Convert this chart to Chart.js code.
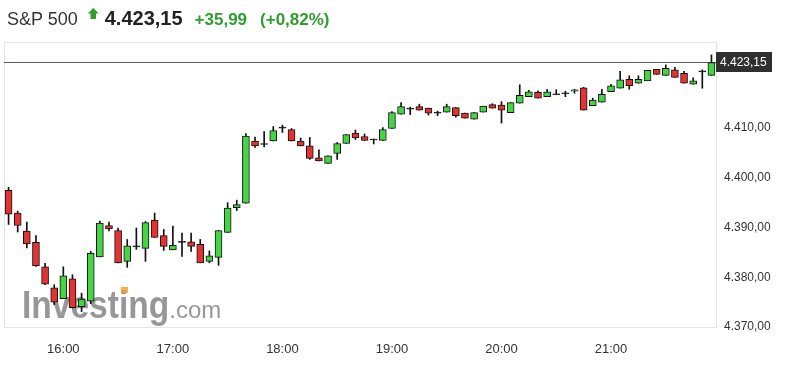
<!DOCTYPE html>
<html>
<head>
<meta charset="utf-8">
<script src="https://cdn.jsdelivr.net/npm/chart.js@4/dist/chart.umd.min.js"></script>
<style>
  body { margin: 0; background: #fff; font-family: Arial, "Liberation Sans", sans-serif; }
  #wrap { position: relative; width: 796px; height: 378px; }
  #grafico { position: absolute; left: 0; top: 0; }
  #titulo { position: absolute; left: 7px; top: 7px; white-space: nowrap; line-height: 22px; }
  #titulo span { display: inline-block; vertical-align: baseline; }
  .nombre { font-size: 18px; color: #333; }
  .flecha { width: 11px; height: 11px; background: #2e9e2e; margin: 0 6px 0 10px;
            clip-path: polygon(50% 0, 100% 50%, 75% 50%, 75% 100%, 25% 100%, 25% 50%, 0 50%);
            position: relative; top: -6px; }
  .precio { font-size: 20px; font-weight: bold; color: #222; }
  .cambio { font-size: 17px; font-weight: bold; color: #2e9e2e; margin-left: 12px; }
  .pct { margin-left: 13px; }
</style>
</head>
<body>
<div id="wrap">
  <canvas id="grafico" width="796" height="378"></canvas>
  <div id="titulo"><span class="nombre">S&amp;P 500</span><span class="flecha"></span><span class="precio">4.423,15</span><span class="cambio">+35,99</span><span class="cambio pct">(+0,82%)</span></div>
</div>
<script>
// velas de 5 minutos, 15:30 -> 21:55
var horas = [];
for (var i = 0; i < 78; i++) {
  var min = 15 * 60 + 30 + i * 5;
  var h = Math.floor(min / 60), m = min % 60;
  horas.push(h + ':' + (m < 10 ? '0' + m : m));
}

var apertura = [4397.5, 4392.9, 4389.3, 4387.0, 4382.1, 4377.9, 4375.7, 4379.7, 4374.1, 4375.2,
  4384.1, 4390.4, 4389.4, 4383.2, 4386.1, 4385.8, 4391.5, 4388.4, 4385.5, 4387.2,
  4387.1, 4386.6, 4383.2, 4384.0, 4389.0, 4394.0, 4394.9, 4407.4, 4406.9, 4407.4,
  4410.0, 4409.7, 4407.4, 4406.4, 4404.0, 4402.9, 4404.9, 4406.9, 4409.0, 4408.3,
  4407.8, 4407.5, 4409.9, 4412.8, 4413.8, 4414.3, 4414.0, 4413.0, 4413.2, 4414.1,
  4413.0, 4411.8, 4413.2, 4414.7, 4414.6, 4413.1, 4415.0, 4416.3, 4417.2, 4416.3,
  4416.7, 4416.9, 4417.4, 4418.1, 4414.5, 4415.2, 4417.3, 4418.0, 4419.8, 4419.0,
  4419.5, 4421.8, 4420.6, 4421.7, 4421.0, 4418.8, 4421.3, 4420.6];
var maximo = [4398.1, 4393.3, 4391.1, 4388.4, 4382.8, 4378.5, 4382.1, 4380.5, 4376.8, 4385.2,
  4391.3, 4391.1, 4389.9, 4387.6, 4389.9, 4391.2, 4392.9, 4389.6, 4390.3, 4388.9,
  4388.9, 4387.6, 4385.3, 4389.4, 4395.0, 4395.5, 4408.9, 4408.2, 4409.3, 4410.3,
  4410.6, 4409.9, 4408.0, 4408.1, 4405.6, 4404.4, 4407.1, 4408.7, 4409.6, 4408.8,
  4407.8, 4410.1, 4413.3, 4415.1, 4414.2, 4414.8, 4414.0, 4413.4, 4414.8, 4414.1,
  4413.0, 4413.1, 4414.4, 4414.9, 4415.3, 4415.1, 4418.7, 4417.6, 4417.5, 4417.8,
  4417.7, 4417.4, 4417.8, 4418.2, 4416.0, 4417.8, 4418.8, 4421.4, 4420.5, 4420.5,
  4421.6, 4421.8, 4422.7, 4422.2, 4421.4, 4420.1, 4421.7, 4424.7];
var minimo = [4390.6, 4389.1, 4385.9, 4382.2, 4378.5, 4374.5, 4375.7, 4373.8, 4373.1, 4374.7,
  4384.1, 4389.3, 4382.9, 4382.0, 4385.6, 4383.2, 4388.0, 4385.4, 4385.5, 4384.2,
  4385.2, 4382.9, 4382.9, 4382.4, 4389.0, 4393.4, 4394.9, 4406.1, 4406.2, 4407.4,
  4409.1, 4407.4, 4406.4, 4403.7, 4403.4, 4402.9, 4403.7, 4406.9, 4407.7, 4407.5,
  4406.8, 4407.5, 4409.9, 4412.8, 4412.7, 4413.6, 4412.6, 4412.5, 4413.2, 4412.2,
  4412.0, 4411.8, 4413.2, 4414.0, 4411.0, 4413.1, 4415.0, 4416.3, 4416.0, 4416.3,
  4416.7, 4416.3, 4417.0, 4413.6, 4414.5, 4415.2, 4417.3, 4418.0, 4417.8, 4419.0,
  4419.5, 4420.8, 4420.6, 4420.2, 4419.0, 4418.8, 4418.0, 4420.6];
var cierre = [4392.7, 4390.4, 4386.7, 4382.3, 4378.6, 4375.0, 4380.3, 4373.9, 4375.6, 4384.8,
  4390.9, 4389.7, 4382.9, 4386.3, 4386.3, 4391.0, 4388.0, 4386.2, 4386.4, 4387.0,
  4386.2, 4382.9, 4384.3, 4389.4, 4393.9, 4394.6, 4408.4, 4406.4, 4406.7, 4409.5,
  4410.2, 4407.4, 4406.4, 4403.9, 4403.4, 4404.4, 4406.9, 4408.7, 4408.0, 4407.5,
  4407.6, 4409.7, 4413.1, 4414.3, 4414.0, 4413.6, 4413.0, 4413.2, 4414.3, 4412.5,
  4412.0, 4413.1, 4414.4, 4414.0, 4413.6, 4415.1, 4416.6, 4417.3, 4416.0, 4417.3,
  4416.9, 4417.1, 4417.7, 4413.6, 4415.6, 4416.8, 4418.5, 4419.7, 4418.5, 4419.8,
  4421.6, 4420.8, 4422.0, 4420.2, 4419.0, 4419.5, 4421.5, 4423.15];

var ultimo = 4423.15;
var ticksY = [4370, 4380, 4390, 4400, 4410];

function formato(v) {
  var s = v.toFixed(2).split('.');
  return s[0].replace(/\B(?=(\d{3})+(?!\d))/g, '.') + ',' + s[1];
}

var mechas = [], cuerpos = [], colores = [];
for (var i = 0; i < horas.length; i++) {
  mechas.push([minimo[i], maximo[i]]);
  cuerpos.push([apertura[i], cierre[i]]);
  var d = cierre[i] - apertura[i];
  if (Math.abs(d) < 0.25) colores.push('#111');
  else if (d > 0) colores.push('#44d444');
  else colores.push('#e23232');
}

var extras = {
  id: 'extras',
  beforeDatasetsDraw: function(chart) {
    var ctx = chart.ctx, ca = chart.chartArea;
    ctx.save();
    // marco
    ctx.strokeStyle = '#e4e4e4';
    ctx.lineWidth = 1;
    ctx.strokeRect(ca.left + 0.5, ca.top + 0.5, ca.right - ca.left, ca.bottom - ca.top);
    // marca de agua
    ctx.fillStyle = 'rgba(125,125,125,0.8)';
    ctx.textBaseline = 'alphabetic';
    ctx.save();
    ctx.translate(22, 318);
    ctx.scale(0.86, 1);
    ctx.font = 'bold 39px Arial, "Liberation Sans"';
    ctx.fillText('Investing', 0, 0);
    var w = ctx.measureText('Investing').width * 0.86;
    ctx.restore();
    ctx.font = '24px Arial, "Liberation Sans"';
    ctx.fillText('.com', 22 + w, 318);
    ctx.fillStyle = 'rgba(245,160,40,0.85)';
    ctx.fillRect(121, 287, 7, 6);
    // linea del ultimo precio
    var y = Math.round(chart.scales.y.getPixelForValue(ultimo)) - 0.5;
    ctx.strokeStyle = '#6a5a5a';
    ctx.beginPath();
    ctx.moveTo(ca.left, y);
    ctx.lineTo(ca.right, y);
    ctx.stroke();
    ctx.restore();
  },
  afterDraw: function(chart) {
    var ctx = chart.ctx, ca = chart.chartArea;
    var y = chart.scales.y.getPixelForValue(ultimo);
    ctx.save();
    ctx.fillStyle = '#2f2f2f';
    ctx.fillRect(ca.right, Math.round(y) - 11, 56, 20);
    ctx.fillStyle = '#fff';
    ctx.font = '12px Arial, "Liberation Sans"';
    ctx.textBaseline = 'middle';
    ctx.fillText(formato(ultimo), ca.right + 4, Math.round(y));
    ctx.restore();
  }
};

Chart.defaults.font.family = 'Arial, "Liberation Sans", sans-serif';
Chart.defaults.color = '#333';

var grafico = new Chart(document.getElementById('grafico').getContext('2d'), {
  type: 'bar',
  data: {
    labels: horas,
    datasets: [{
      label: 'mecha',
      data: mechas,
      backgroundColor: '#111',
      borderWidth: 0,
      barThickness: 1,
      grouped: false,
      order: 2
    }, {
      label: 'cuerpo',
      data: cuerpos,
      backgroundColor: colores,
      borderColor: '#111',
      borderWidth: 1,
      borderSkipped: false,
      barThickness: 7,
      grouped: false,
      order: 1
    }]
  },
  options: {
    responsive: false,
    animation: false,
    layout: { padding: { top: 42, left: 4, right: 0, bottom: 0 } },
    plugins: { legend: { display: false }, tooltip: { enabled: false } },
    scales: {
      x: {
        grid: { display: false, drawTicks: false },
        border: { display: false },
        ticks: {
          autoSkip: false,
          maxRotation: 0,
          padding: 15,
          font: { size: 13 },
          callback: function(v) {
            var l = this.getLabelForValue(v);
            return l.slice(-3) == ':00' ? l : null;
          }
        },
        afterFit: function(s) { s.height = 51; }
      },
      y: {
        position: 'right',
        min: 4370,
        max: 4427.3,
        grid: { display: false, drawTicks: false },
        border: { display: false },
        ticks: {
          stepSize: 10,
          padding: 8,
          font: { size: 12 },
          callback: function(v) {
            return ticksY.indexOf(v) >= 0 ? formato(v) : null;
          }
        },
        afterFit: function(s) { s.width = 80; }
      }
    }
  },
  plugins: [extras]
});
</script>
</body>
</html>
